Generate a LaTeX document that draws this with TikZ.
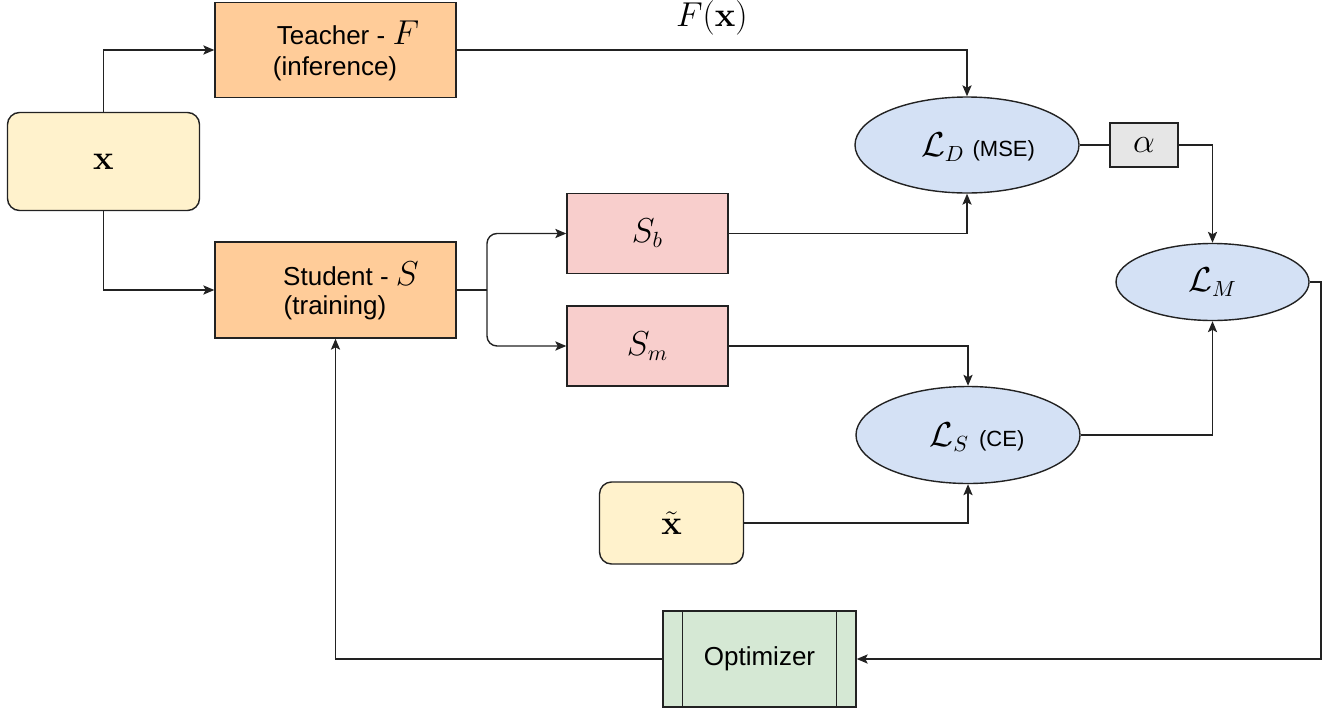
\documentclass[tikz,border=0pt]{standalone}
\usepackage[no-math]{fontspec}
\setmainfont{Liberation Sans}
\usepackage{amsmath}
\usetikzlibrary{shapes.geometric,arrows.meta}

\definecolor{inyellow}{HTML}{FFF2CC}
\definecolor{netorange}{HTML}{FFCC99}
\definecolor{headpink}{HTML}{F8CECC}
\definecolor{lossblue}{HTML}{D4E1F5}
\definecolor{wgray}{HTML}{E6E6E6}
\definecolor{optgreen}{HTML}{D5E8D4}
\definecolor{edge}{HTML}{222222}

\newcommand{\MSz}{\fontsize{16}{19}\selectfont}
\newcommand{\TSz}{\fontsize{13}{15.6}\selectfont}
\newcommand{\SSz}{\fontsize{11}{13.2}\selectfont}

\tikzset{
  base/.style={draw=edge, line width=0.7pt, inner sep=0pt},
  inbox/.style={base, fill=inyellow, rounded corners=6pt},
  netbox/.style={base, fill=netorange, minimum width=120.5pt},
  headbox/.style={base, fill=headpink, minimum width=80.5pt, minimum height=40pt},
  lossnode/.style={base, ellipse, fill=lossblue},
  wbox/.style={base, fill=wgray, minimum width=34pt, minimum height=22pt},
  optbox/.style={base, fill=optgreen, minimum width=96.5pt, minimum height=48pt},
  arr/.style={line width=0.7pt, draw=edge, -{Stealth[length=5.5pt,width=4.6pt,inset=1.2pt]}},
  wire/.style={line width=0.7pt, draw=edge},
  txt/.style={inner sep=0pt, font=\TSz},
}

\begin{document}
\begin{tikzpicture}[x=0.5pt, y=-0.5pt]
\useasboundingbox (0,0) rectangle (1332,712);

% inputs
\node[inbox, minimum width=96pt, minimum height=49pt] (xin) at (103.5,161.5) {\MSz$\mathbf{x}$};
\node[inbox, minimum width=72pt, minimum height=41pt] (xt) at (671.5,523) {\MSz$\tilde{\mathbf{x}}$};

% teacher and student networks
\node[netbox, minimum height=47.5pt] (teacher) at (335.5,50) {};
\node[txt] (tl1) at (348,33) {Teacher - {\MSz$F$}};
\node[txt] (tl2) at (335,69) {(inference)};

\node[netbox, minimum height=48pt] (student) at (335.5,290) {};
\node[txt] (sl1) at (351,274) {Student - {\MSz$S$}};
\node[txt] (sl2) at (335,308) {(training)};

% student heads
\node[headbox] (sb) at (647.5,233.5) {\MSz$S_b$};
\node[headbox] (sm) at (647.5,346) {\MSz$S_m$};

% losses
\node[lossnode, minimum width=112pt, minimum height=48pt] (ld) at (967,145) {};
\node[inner sep=0pt] (ldt) at (978,147) {\MSz$\mathcal{L}_D$\hspace{4pt}{\SSz(MSE)}};
\node[lossnode, minimum width=112pt, minimum height=48.5pt] (ls) at (968,435) {};
\node[inner sep=0pt] (lst) at (977,437) {\MSz$\mathcal{L}_S$\hspace{5pt}{\SSz(CE)}};
\node[lossnode, minimum width=96.5pt, minimum height=38.5pt] (lm) at (1212.5,282)
  {\MSz$\mathcal{L}_M$};
\node[wbox] (alpha) at (1144,145) {\MSz$\alpha$};

% optimizer (process box with inner bars)
\node[optbox] (opt) at (759.5,659) {\TSz Optimizer};
\draw[wire] ([xshift=10pt]opt.north west) -- ([xshift=10pt]opt.south west);
\draw[wire] ([xshift=-10pt]opt.north east) -- ([xshift=-10pt]opt.south east);

% routing points
\coordinate (split) at (487,290);
\coordinate (rc) at (1321,659);

% connectors
\draw[arr] (xin.north) |- (teacher.west);
\draw[arr] (xin.south) |- (student.west);

\draw[wire] (student.east) -- (split);
\draw[arr, rounded corners=5pt] (split) |- (sb.west);
\draw[arr, rounded corners=5pt] (split) |- (sm.west);

\draw[arr] (teacher.east) -| (ld.north)
  node[pos=0.25, above=7pt, inner sep=0pt] (fx) {\MSz$F(\mathbf{x})$};

\draw[arr] (sb.east) -| (ld.south);
\draw[arr] (sm.east) -| (ls.north);
\draw[arr] (xt.east) -| (ls.south);

\draw[wire] (ld.east) -- (alpha.west);
\draw[arr] (alpha.east) -| (lm.north);
\draw[arr] (ls.east) -| (lm.south);

\draw[arr] (lm.east) -| (rc) -- (opt.east);
\draw[arr] (opt.west) -| (student.south);
\end{tikzpicture}
\end{document}
